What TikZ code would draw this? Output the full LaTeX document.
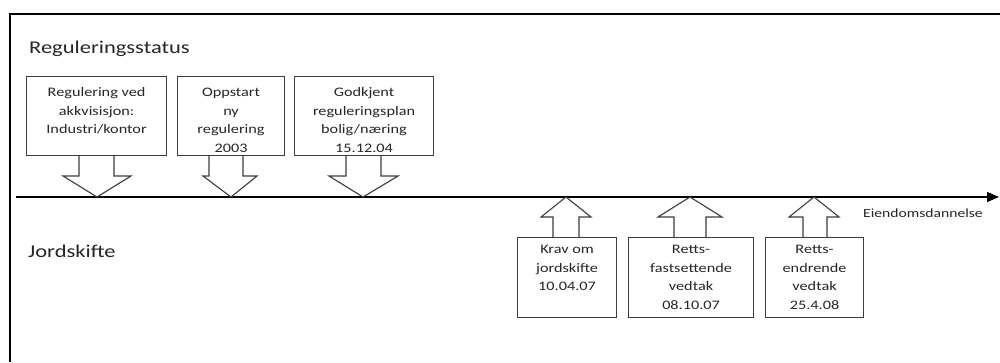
\documentclass[tikz,border=0pt]{standalone}
\usepackage{fontspec}
\setmainfont{Carlito}[FakeStretch=1.25]
\usetikzlibrary{arrows.meta}
\definecolor{txtgray}{RGB}{38,38,38}
\definecolor{boxgray}{RGB}{60,60,60}

\begin{document}
\begin{tikzpicture}[x=1pt,y=-1pt,
    box/.style={draw=boxgray,line width=1.1pt,inner sep=0pt,anchor=north west,text=txtgray,font=\fontsize{13}{18.5}\selectfont},
    callarrow/.style={draw=boxgray,line width=1.1pt},
    heading/.style={anchor=base west,inner sep=0pt,text=txtgray,font=\fontsize{18}{22}\selectfont}]
    \useasboundingbox (0,0) rectangle (1000,362);
    \fill[white] (0,0) rectangle (1000,362);
    \draw[line width=2.3pt] (1000,14) -- (10,14) -- (10,362);

    \node[heading] (regstatus) at (29,53) {Reguleringsstatus};
    \node[heading] (jordskifte) at (28,257) {Jordskifte};

    % tidslinje
    \coordinate (tstart) at (16,197);
    \coordinate (tend) at (999,197);
    \draw[line width=1.2pt,-{Triangle[length=12pt,width=10pt]}] (tstart) -- (tend);
    \node[anchor=base west,inner sep=0pt,text=txtgray,font=\fontsize{12.5}{15}\selectfont] (eiendom) at (863,217) {Eiendomsdannelse};

    \coordinate (t1) at (97,197);
    \coordinate (t2) at (231,197);
    \coordinate (t3) at (363,197);
    \coordinate (t4) at (566,197);
    \coordinate (t5) at (690,197);
    \coordinate (t6) at (814,197);

    \node[box] (regakk) at (26,76) {\parbox[t][79pt][t]{140pt}{\centering\rule{0pt}{20pt}Regulering ved\\akkvisisjon:\\Industri/kontor}};
    \node[box] (oppstart) at (177,76) {\parbox[t][79pt][t]{107pt}{\centering\rule{0pt}{20pt}Oppstart\\ny\\regulering\\2003}};
    \node[box] (godkjent) at (294,76) {\parbox[t][79pt][t]{139pt}{\centering\rule{0pt}{20pt}Godkjent\\reguleringsplan\\bolig/næring\\15.12.04}};

    \draw[callarrow] (79,0 |- regakk.south) -- (79,176) -- (63,176) -- (t1) -- (131,176) -- (114,176) -- (114,0 |- regakk.south);
    \draw[callarrow] (209,0 |- oppstart.south) -- (209,176) -- (203,176) -- (t2) -- (257,176) -- (243,176) -- (243,0 |- oppstart.south);
    \draw[callarrow] (346,0 |- godkjent.south) -- (346,176) -- (329,176) -- (t3) -- (398,176) -- (381,176) -- (381,0 |- godkjent.south);

    \node[box] (krav) at (517,237) {\parbox[t][80pt][t]{99pt}{\centering\rule{0pt}{16pt}Krav om\\jordskifte\\10.04.07}};
    \node[box] (fastsett) at (628,237) {\parbox[t][80pt][t]{125pt}{\centering\rule{0pt}{16pt}Retts-\\fastsettende\\vedtak\\08.10.07}};
    \node[box] (endring) at (765,237) {\parbox[t][80pt][t]{98pt}{\centering\rule{0pt}{16pt}Retts-\\endrende\\vedtak\\25.4.08}};

    \draw[callarrow] (553,0 |- krav.north) -- (553,217) -- (541,217) -- (t4) -- (591,217) -- (579,217) -- (579,0 |- krav.north);
    \draw[callarrow] (674,0 |- fastsett.north) -- (674,217) -- (658,217) -- (t5) -- (722,217) -- (706,217) -- (706,0 |- fastsett.north);
    \draw[callarrow] (803,0 |- endring.north) -- (803,217) -- (789,217) -- (t6) -- (839,217) -- (827,217) -- (827,0 |- endring.north);
\end{tikzpicture}
\end{document}
